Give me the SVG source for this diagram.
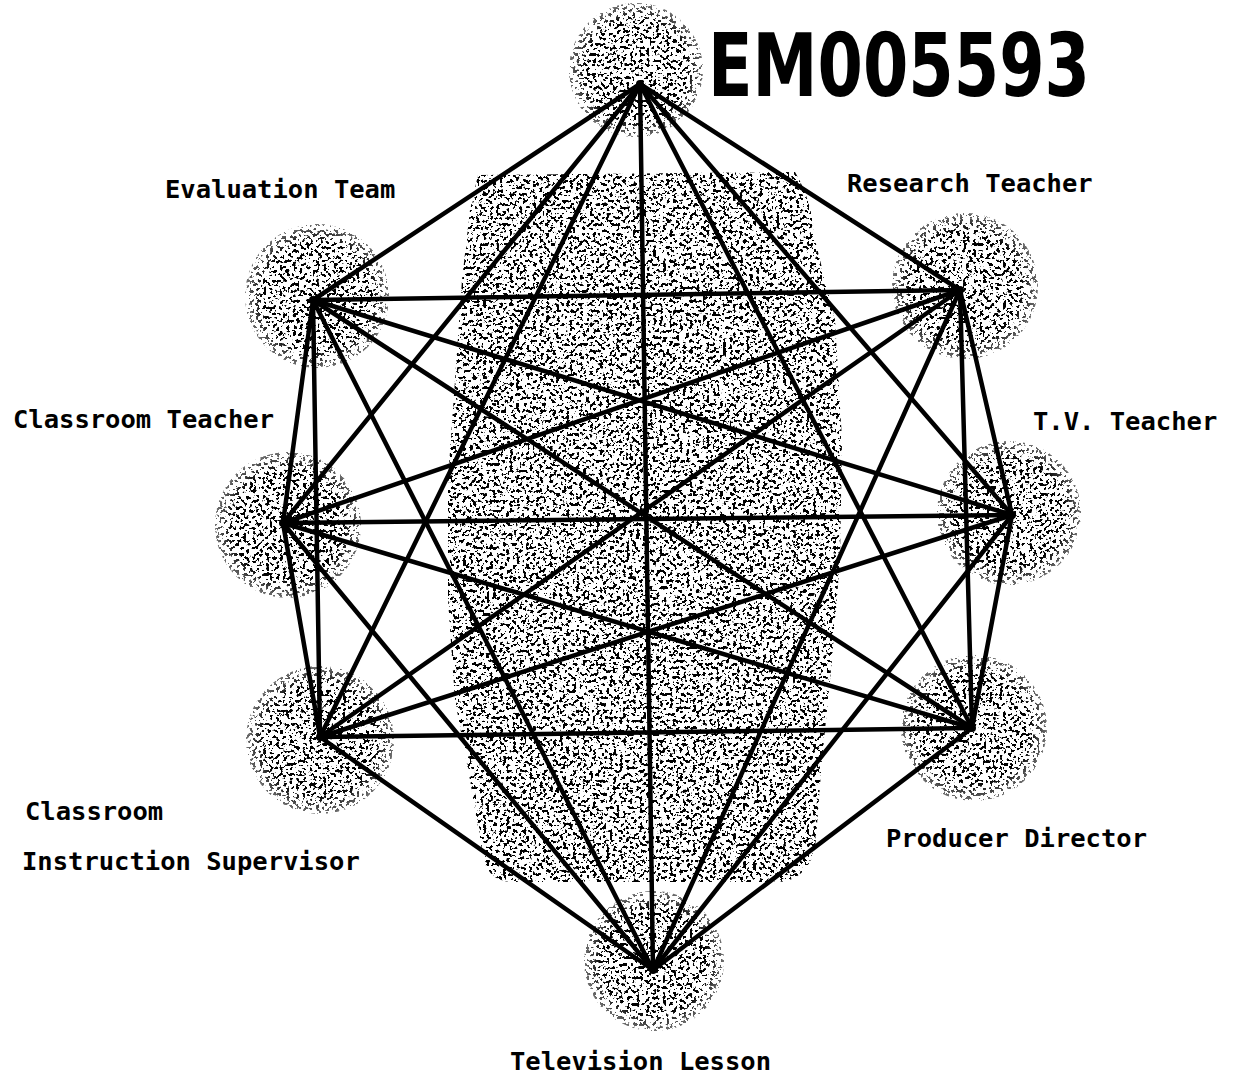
<svg xmlns="http://www.w3.org/2000/svg" width="1237" height="1079" viewBox="0 0 1237 1079">
<defs>
<filter id="stip" filterUnits="userSpaceOnUse" x="0" y="0" width="1237" height="1079" color-interpolation-filters="sRGB">
<feTurbulence type="fractalNoise" baseFrequency="0.3" numOctaves="2" seed="11" result="n"/>
<feColorMatrix in="n" type="matrix" values="0 0 0 0 0  0 0 0 0 0  0 0 0 0 0  -30 0 0 0 13.3" result="m"/>
<feComposite in="SourceGraphic" in2="m" operator="in"/>
</filter>
<radialGradient id="fade">
<stop offset="0" stop-color="#000" stop-opacity="1"/>
<stop offset="0.75" stop-color="#000" stop-opacity="1"/>
<stop offset="1" stop-color="#000" stop-opacity="0.55"/>
</radialGradient>
</defs>
<style>
.lbl{font-family:"DejaVu Sans Mono","Liberation Mono",monospace;font-weight:bold;font-size:25.5px;fill:#000}
.edge{stroke:#000;stroke-width:4.5;stroke-linecap:round;fill:none}
.spot{fill:url(#fade)}
.stamp{font-family:"DejaVu Sans","Liberation Sans",sans-serif;font-weight:bold;font-size:88px;fill:#000}
</style>
<rect width="1237" height="1079" fill="#fff"/>
<g id="stipple" filter="url(#stip)">
<path id="center-field" fill="#000" d="M 478 175 L 795 172 Q 812 200 815 240 L 835 320 L 842 440 L 840 560 L 832 660 L 822 760 L 815 850 Q 805 880 780 882 L 510 882 Q 485 880 482 850 L 470 780 L 455 700 L 448 600 L 448 480 L 455 380 L 462 280 L 470 210 Z"/>
<circle class="spot" cx="636" cy="70" r="67"/>
<circle class="spot" cx="965" cy="286" r="73"/>
<circle class="spot" cx="1009" cy="513" r="72"/>
<circle class="spot" cx="974" cy="728" r="73"/>
<circle class="spot" cx="654" cy="961" r="70"/>
<circle class="spot" cx="320" cy="740" r="74"/>
<circle class="spot" cx="288" cy="525" r="73"/>
<circle class="spot" cx="317" cy="296" r="72"/>
</g>
<g id="connectors" class="edge">
<line x1="640" y1="84" x2="960" y2="290"/>
<line x1="640" y1="84" x2="1012" y2="515"/>
<line x1="640" y1="84" x2="972" y2="728"/>
<line x1="640" y1="84" x2="653" y2="970"/>
<line x1="640" y1="84" x2="320" y2="737"/>
<line x1="640" y1="84" x2="283" y2="523"/>
<line x1="640" y1="84" x2="313" y2="300"/>
<line x1="960" y1="290" x2="1012" y2="515"/>
<line x1="960" y1="290" x2="972" y2="728"/>
<line x1="960" y1="290" x2="653" y2="970"/>
<line x1="960" y1="290" x2="320" y2="737"/>
<line x1="960" y1="290" x2="283" y2="523"/>
<line x1="960" y1="290" x2="313" y2="300"/>
<line x1="1012" y1="515" x2="972" y2="728"/>
<line x1="1012" y1="515" x2="653" y2="970"/>
<line x1="1012" y1="515" x2="320" y2="737"/>
<line x1="1012" y1="515" x2="283" y2="523"/>
<line x1="1012" y1="515" x2="313" y2="300"/>
<line x1="972" y1="728" x2="653" y2="970"/>
<line x1="972" y1="728" x2="320" y2="737"/>
<line x1="972" y1="728" x2="283" y2="523"/>
<line x1="972" y1="728" x2="313" y2="300"/>
<line x1="653" y1="970" x2="320" y2="737"/>
<line x1="653" y1="970" x2="283" y2="523"/>
<line x1="653" y1="970" x2="313" y2="300"/>
<line x1="320" y1="737" x2="283" y2="523"/>
<line x1="320" y1="737" x2="313" y2="300"/>
<line x1="283" y1="523" x2="313" y2="300"/>
</g>
<g id="node-top"><circle cx="640" cy="84" r="4" fill="#000"/></g>
<g id="node-research-teacher"><circle cx="960" cy="290" r="4" fill="#000"/><text class="lbl" x="847" y="192">Research Teacher</text></g>
<g id="node-tv-teacher"><circle cx="1012" cy="515" r="4" fill="#000"/><text class="lbl" x="1033" y="430">T.V. Teacher</text></g>
<g id="node-producer-director"><circle cx="972" cy="728" r="4" fill="#000"/><text class="lbl" x="886" y="847">Producer Director</text></g>
<g id="node-television-lesson"><circle cx="653" cy="970" r="4" fill="#000"/><text class="lbl" x="510" y="1070">Television Lesson</text></g>
<g id="node-classroom-instruction-supervisor"><circle cx="320" cy="737" r="4" fill="#000"/><text class="lbl" x="25" y="820">Classroom</text><text class="lbl" x="22" y="870">Instruction Supervisor</text></g>
<g id="node-classroom-teacher"><circle cx="283" cy="523" r="4" fill="#000"/><text class="lbl" x="13" y="428">Classroom Teacher</text></g>
<g id="node-evaluation-team"><circle cx="313" cy="300" r="4" fill="#000"/><text class="lbl" x="165" y="198">Evaluation Team</text></g>
<text class="stamp" x="708" y="96" textLength="382" lengthAdjust="spacingAndGlyphs">EM005593</text>
</svg>
